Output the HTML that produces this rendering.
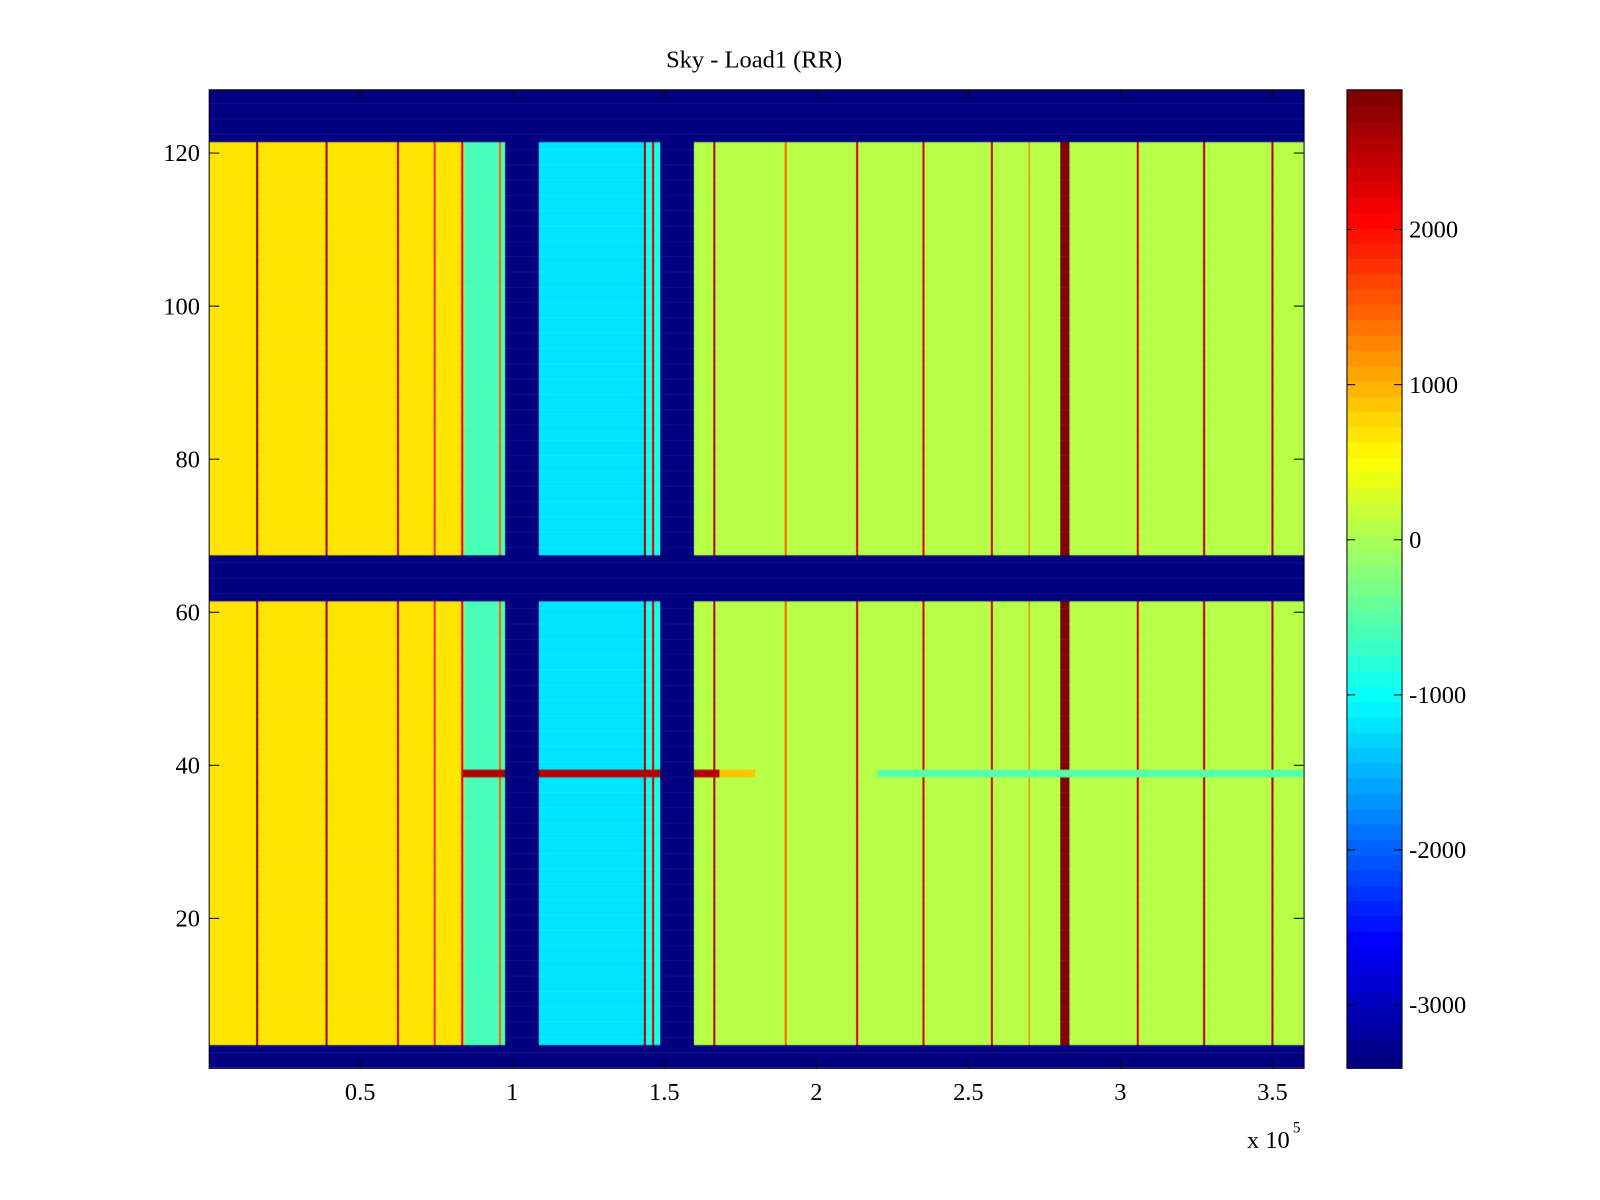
<!DOCTYPE html>
<html><head><meta charset="utf-8"><style>
body{margin:0;background:#fff;width:1600px;height:1200px;overflow:hidden;position:relative;font-family:"Liberation Serif",serif}
#wrap{position:absolute;left:0;top:0;width:1568px;height:1176px;transform:scale(1.020408);transform-origin:0 0}
canvas{position:absolute}
svg{position:absolute;left:0;top:0}
</style></head><body>
<div id="wrap">
<canvas id="hm" width="1073" height="959" style="left:205px;top:88px"></canvas>
<canvas id="cb" width="54" height="959" style="left:1320px;top:88px"></canvas>
<svg id="ax" width="1568" height="1176"></svg>
</div>
<script>
// ---- data ----
const xTicks=[0.5,1,1.5,2,2.5,3,3.5];
const xTickLabels=["0.5","1","1.5","2","2.5","3","3.5"];
const yTicks=[20,40,60,80,100,120];
const cTicks=[2000,1000,0,-1000,-2000,-3000];
// blank (masked) row bands [from,to]
const blankRows=[[0.5,3.5],[61.5,67.5],[121.5,128.5]];
// x segments (units 1e5): start,end,value
const segStart=[0,0.842,0.977,1.087,1.436,1.487,1.597];
const segEnd=[0.842,0.977,1.087,1.436,1.487,1.597,3.61];
const segValue=[700,-600,-3408,-1200,-900,-3408,60];
// vertical stripes: center,width,value
const stripeX=[0.161,0.389,0.624,0.836,0.745,0.96,1.436,1.463,1.664,2.134,2.352,2.577,2.818,3.057,3.275,3.5,1.9,2.7];
const stripeW=[0.008,0.008,0.008,0.006,0.005,0.006,0.006,0.006,0.008,0.006,0.006,0.006,0.03,0.006,0.008,0.008,0.005,0.005];
const stripeV=[2800,2700,2500,2300,1800,1500,2700,2400,2500,2300,2400,2400,2850,2300,2600,2600,1500,1500];
// horizontal line at row 39: x start,end,value
const hLineRow=39;
const hLineStart=[0.84,1.6,2.2];
const hLineEnd=[1.68,1.8,3.6];
const hLineVal=[2600,900,-500];
const cMin=-3408,cMax=2901;
// ---- scales ----
const X0=204,PX=298,Y0=1050,PY=7.5;
const sx=v=>X0+v*PX, sy=v=>Y0-v*PY;
function jet(v){let t=(v-cMin)/(cMax-cMin);t=Math.min(63,Math.max(0,Math.floor(t*64)))/63;
const c=a=>Math.round(255*Math.min(1,Math.max(0,a)));
return `rgb(${c(1.5-Math.abs(4*t-3))},${c(1.5-Math.abs(4*t-2))},${c(1.5-Math.abs(4*t-1))})`;}
function val(x,y){
for(const b of blankRows) if(y>b[0]&&y<b[1]) return cMin;
let v=cMin;
for(let i=0;i<segStart.length;i++) if(x>=segStart[i]&&x<segEnd[i]) v=segValue[i];
if(v===cMin) return v;
if(Math.abs(y-hLineRow)<0.5) for(let i=0;i<hLineStart.length;i++) if(x>=hLineStart[i]&&x<hLineEnd[i]) return hLineVal[i];
for(let i=0;i<stripeX.length;i++) if(Math.abs(x-stripeX[i])<=stripeW[i]/2) v=stripeV[i];
return v;}
const ctx=document.getElementById('hm').getContext('2d');
for(let r=1;r<=128;r++){
 const yt=sy(r+0.5)-88, h=PY;
 for(let px=0;px<1073;px++){
  const x=(px+205.5-X0)/PX;
  ctx.fillStyle=jet(val(x,r));
  ctx.fillRect(px,yt,1,h+0.5);
 }}
const cb=document.getElementById('cb').getContext('2d');
for(let i=0;i<64;i++){const v=cMin+(i+0.5)*(cMax-cMin)/64;cb.fillStyle=jet(v);
 const y0=959-(i+1)*959/64;cb.fillRect(0,y0,54,959/64+1);}
// ---- axes ----
const svg=document.getElementById('ax');const NS='http://www.w3.org/2000/svg';
function el(t,a,txt){const e=document.createElementNS(NS,t);for(const k in a)e.setAttribute(k,a[k]);if(txt!==undefined)e.textContent=txt;svg.appendChild(e);return e;}
let e;
e=el('rect',{x:205,y:88,width:1073,height:959,fill:'none',stroke:'#000','stroke-width':1});


e=el('rect',{x:1320,y:88,width:54,height:959,fill:'none',stroke:'#000','stroke-width':1});


xTicks.forEach((t,i)=>{const x=sx(t);
 el('line',{x1:x,x2:x,y1:1047,y2:1037,stroke:'#000'});el('line',{x1:x,x2:x,y1:88,y2:98,stroke:'#000'});
 e=el('text',{x:x,y:1078,'font-size':24,'text-anchor':'middle'},xTickLabels[i]);
 
 });
yTicks.forEach(t=>{const y=sy(t);
 el('line',{x1:205,x2:215,y1:y,y2:y,stroke:'#000'});el('line',{x1:1278,x2:1268,y1:y,y2:y,stroke:'#000'});
 e=el('text',{x:196,y:y+8,'font-size':24,'text-anchor':'end'},String(t));
 
 });
cTicks.forEach(t=>{const y=88+(cMax-t)/(cMax-cMin)*959;
 el('line',{x1:1320,x2:1328,y1:y,y2:y,stroke:'#000'});el('line',{x1:1374,x2:1366,y1:y,y2:y,stroke:'#000'});
 e=el('text',{x:1381,y:y+8,'font-size':24},String(t));
 
 });
e=el('text',{x:739,y:66,'font-size':24,'text-anchor':'middle'},'Sky - Load1 (RR)');


e=el('text',{x:1222,y:1125,'font-size':24},'x 10');


e=el('text',{x:1267,y:1110,'font-size':15},'5');


</script>
</body></html>
